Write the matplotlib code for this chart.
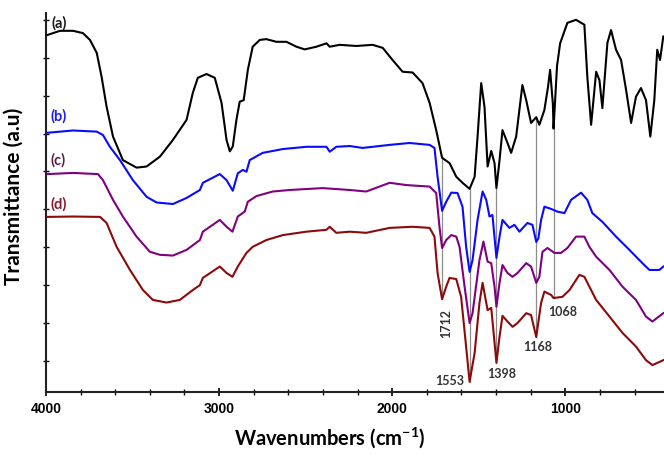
import numpy as np
import matplotlib
matplotlib.use("Agg")
import matplotlib.pyplot as plt
from matplotlib.ticker import MultipleLocator, NullFormatter

plt.rcParams['mathtext.fontset'] = 'custom'
plt.rcParams['mathtext.rm'] = 'Lato'
plt.rcParams['mathtext.bf'] = 'Lato:bold'
plt.rcParams['mathtext.default'] = 'bf'

# wavenumber (cm-1) and transmittance (a.u.)
wn_a = [3992, 3919, 3844, 3787, 3746, 3707, 3679, 3650, 3613, 3556, 3477, 3419,
        3342, 3267, 3188, 3152, 3123, 3073, 3025, 2986, 2957, 2938, 2921, 2900,
        2881, 2858, 2834, 2806, 2765, 2727, 2669, 2611, 2553, 2506, 2438, 2380,
        2361, 2304, 2207, 2113, 2055, 1998, 1940, 1882, 1825, 1784, 1746, 1712,
        1669, 1630, 1594, 1553, 1524, 1507, 1486, 1467, 1449, 1428, 1409, 1398,
        1380, 1363, 1334, 1313, 1284, 1248, 1226, 1198, 1168, 1150, 1121, 1100,
        1088, 1072, 1068, 1048, 1030, 988, 938, 890, 873, 851, 822, 803, 786,
        757, 736, 707, 678, 649, 620, 592, 563, 534, 509, 486, 469, 453, 434]
t_a = [94.2, 95.3, 95.3, 94.7, 92.9, 89.5, 83.2, 75.3, 67.4, 61.2, 59.2, 59.5,
       62.1, 66.5, 71.8, 78.9, 82.9, 83.9, 82.9, 76.3, 66.5, 63.5, 64.8, 71.8,
       76.6, 77.0, 85.0, 91.1, 92.9, 93.1, 92.4, 92.4, 91.1, 90.4, 91.1, 92.0,
       91.1, 91.6, 91.3, 91.6, 90.8, 87.6, 84.5, 84.3, 81.5, 76.3, 69.1, 61.8,
       60.4, 56.8, 55.2, 53.6, 56.8, 67.4, 81.5, 75.3, 59.5, 63.6, 60.4, 53.8,
       61.2, 69.1, 65.7, 63.1, 67.4, 81.0, 77.0, 71.0, 72.5, 70.5, 74.4, 80.5,
       85.0, 76.0, 69.5, 86.0, 92.0, 97.4, 98.2, 96.9, 83.2, 70.5, 84.5, 82.3,
       74.9, 92.1, 95.5, 90.3, 87.6, 79.7, 71.0, 77.9, 80.2, 77.0, 67.4, 77.0,
       90.3, 87.6, 93.8]

wn_b = [3992, 3844, 3707, 3671, 3631, 3573, 3498, 3419, 3361, 3267, 3188, 3111,
        3094, 2996, 2957, 2921, 2892, 2863, 2842, 2823, 2748, 2632, 2496, 2380,
        2361, 2323, 2246, 2171, 2015, 1900, 1784, 1756, 1738, 1712, 1688, 1659,
        1623, 1594, 1573, 1553, 1536, 1507, 1478, 1457, 1438, 1421, 1398, 1380,
        1363, 1323, 1294, 1265, 1219, 1190, 1168, 1156, 1140, 1121, 1082, 1046,
        1005, 967, 909, 873, 844, 786, 707, 630, 555, 514, 457, 434]
t_b = [68.4, 69.0, 68.7, 67.8, 64.7, 61.2, 55.9, 51.5, 50.0, 49.6, 51.2, 53.3,
       55.2, 57.5, 55.9, 53.1, 57.7, 58.6, 58.1, 61.2, 63.1, 64.1, 64.7, 64.7,
       63.4, 64.7, 64.9, 64.4, 65.2, 65.7, 65.2, 64.4, 56.8, 47.8, 50.2, 52.6,
       52.5, 48.9, 38.3, 31.7, 34.8, 45.4, 52.9, 50.7, 46.3, 46.7, 35.4, 41.0,
       45.4, 43.3, 44.1, 42.3, 44.6, 44.1, 39.6, 40.5, 45.4, 48.9, 48.3, 47.6,
       47.2, 50.7, 52.6, 50.7, 47.2, 44.9, 41.0, 37.5, 34.0, 32.2, 32.2, 33.1]

wn_c = [3992, 3844, 3700, 3671, 3613, 3556, 3477, 3400, 3342, 3267, 3188, 3111,
        3094, 2996, 2957, 2923, 2892, 2852, 2834, 2784, 2690, 2592, 2402, 2246,
        2150, 2015, 1919, 1784, 1746, 1727, 1712, 1688, 1659, 1630, 1611, 1582,
        1553, 1536, 1496, 1473, 1449, 1428, 1409, 1398, 1380, 1363, 1334, 1305,
        1276, 1226, 1198, 1168, 1150, 1132, 1103, 1063, 1025, 988, 938, 890,
        861, 822, 745, 670, 592, 534, 497, 434]
t_c = [57.5, 57.8, 57.5, 55.9, 50.7, 46.3, 41.0, 37.0, 36.2, 36.0, 37.5, 40.1,
       42.3, 45.4, 43.6, 42.3, 46.3, 47.6, 50.2, 51.7, 52.9, 53.3, 53.8, 53.3,
       52.9, 55.2, 54.6, 54.2, 52.5, 43.6, 38.0, 40.1, 41.4, 41.0, 38.3, 27.8,
       18.2, 20.8, 34.8, 39.7, 34.4, 34.0, 27.8, 22.5, 28.8, 33.5, 31.4, 30.4,
       31.4, 34.0, 33.1, 28.8, 30.4, 37.0, 38.0, 36.7, 36.7, 38.0, 41.0, 41.0,
       38.3, 35.7, 32.2, 27.8, 24.3, 19.9, 18.6, 20.8]

wn_d = [3992, 3844, 3688, 3650, 3592, 3515, 3440, 3383, 3304, 3227, 3152, 3111,
        3094, 2996, 2957, 2923, 2892, 2842, 2806, 2727, 2632, 2496, 2380, 2361,
        2323, 2246, 2150, 2015, 1882, 1784, 1756, 1738, 1712, 1688, 1669, 1630,
        1602, 1573, 1553, 1524, 1496, 1478, 1449, 1428, 1398, 1380, 1363, 1334,
        1305, 1276, 1226, 1198, 1168, 1140, 1121, 1082, 1068, 1017, 976, 919,
        890, 861, 822, 745, 670, 592, 534, 497, 434]
t_d = [46.2, 46.3, 46.2, 44.6, 38.3, 32.2, 26.9, 24.3, 23.6, 24.3, 26.9, 28.2,
       30.1, 33.1, 31.4, 30.4, 33.1, 36.7, 38.3, 40.1, 41.4, 42.3, 42.8, 43.6,
       42.0, 42.3, 42.0, 43.3, 43.6, 43.3, 41.0, 31.4, 24.5, 27.8, 30.1, 29.8,
       25.1, 11.9, 2.7, 10.3, 23.5, 28.8, 21.6, 22.2, 7.7, 14.6, 20.1, 18.6,
       17.2, 18.2, 20.8, 20.3, 14.5, 23.5, 26.5, 25.6, 24.8, 25.1, 26.9, 30.9,
       30.4, 27.8, 24.3, 19.9, 15.6, 12.0, 8.4, 7.1, 8.4]

peaks = [1712, 1553, 1398, 1168, 1068]

fig = plt.figure(figsize=(6.64, 4.58), dpi=100)
ax = fig.add_axes([46 / 664, 66 / 458, 618 / 664, 379 / 458])

# guide lines from curve (a) down to curve (d)
for p in peaks:
    top = np.interp(p, wn_a[::-1], t_a[::-1])
    bot = np.interp(p, wn_d[::-1], t_d[::-1])
    ax.plot([p, p], [bot, top], color='#8c8c8c', lw=0.9, zorder=1)

ax.plot(wn_a, t_a, color='black', lw=1.5, zorder=3)
ax.plot(wn_b, t_b, color='#0a0aff', lw=1.5, zorder=3)
ax.plot(wn_c, t_c, color='#800080', lw=1.5, zorder=3)
ax.plot(wn_d, t_d, color='#8b0a0a', lw=1.5, zorder=3)

lab_kw = dict(fontsize=10.5, fontweight='bold', family='Lato', ha='center', va='center')
ax.text(3925, 97.4, '(a)', color='#1a1a1a', **lab_kw)
ax.text(3925, 72.8, '(b)', color='#1a1aff', **lab_kw)
ax.text(3932, 61.1, '(c)', color='#5a1f50', **lab_kw)
ax.text(3925, 49.6, '(d)', color='#8b1a2a', **lab_kw)

pk_kw = dict(fontsize=9, fontweight='bold', family='Lato', color='#333333',
             ha='center', va='center')
ax.text(1689, 18.2, '1712', rotation=90, **pk_kw)
ax.text(1671, 3.0, '1553', **pk_kw)
ax.text(1369, 4.7, '1398', **pk_kw)
ax.text(1161, 11.9, '1168', **pk_kw)
ax.text(1017, 21.1, '1068', **pk_kw)

ax.set_xlim(4000, 430)
ax.set_ylim(0, 100)
ax.xaxis.set_major_locator(MultipleLocator(1000))
ax.xaxis.set_minor_locator(MultipleLocator(200))
ax.set_yticks(np.arange(8.2, 100, 10))
ax.yaxis.set_major_formatter(NullFormatter())

for s in ['top', 'right']:
    ax.spines[s].set_visible(False)
for s in ['left', 'bottom']:
    ax.spines[s].set_linewidth(1.5)
    ax.spines[s].set_color('#222222')

ax.tick_params(axis='x', which='major', direction='inout', length=6, width=1.2,
               labelsize=10, pad=4)
ax.tick_params(axis='x', which='minor', direction='inout', length=4, width=1)
ax.tick_params(axis='y', which='major', direction='inout', length=5, width=1)
for lbl in ax.get_xticklabels():
    lbl.set_fontfamily('Liberation Sans')
    lbl.set_fontweight('bold')

ax.set_xlabel('Wavenumbers (cm$^{-1}$)', fontsize=14.5, fontweight='bold', family='Lato')
ax.xaxis.set_label_coords(0.46, -0.088)
ax.set_ylabel('Transmittance (a.u)', fontsize=15, fontweight='bold', family='Lato')
ax.yaxis.set_label_coords(-0.036, 0.515)

fig.savefig('out.png', dpi=100)
